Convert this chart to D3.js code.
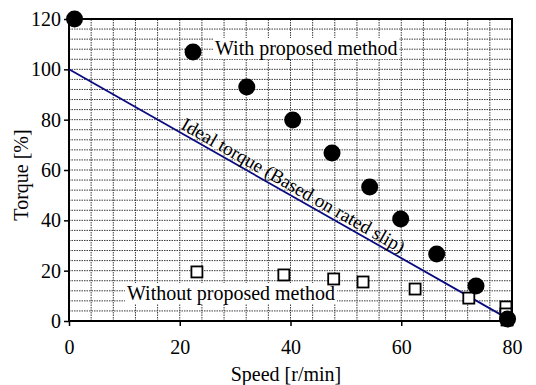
<!DOCTYPE html>
<html>
<head>
<meta charset="utf-8">
<script src="https://cdn.jsdelivr.net/npm/d3@7"></script>
<style>
  body { margin: 0; background: #fff; }
  svg, svg text { font-family: "Liberation Serif", "Times New Roman", serif !important; }
</style>
</head>
<body>
<div id="chart"></div>
<script>
// With proposed method (speed, torque)
const withSpeed = [1, 22.4, 32.1, 40.4, 47.5, 54.3, 59.9, 66.4, 73.5, 79.2];
const withTorque = [120, 106.9, 93, 79.9, 66.8, 53.2, 40.5, 26.6, 13.9, 0.8];

// Without proposed method
const withoutSpeed = [23.1, 38.8, 47.8, 53.1, 62.5, 72.2, 78.9, 78.9, 79.1];
const withoutTorque = [19.5, 18.3, 16.7, 15.5, 12.7, 9.1, 5.6, 2.8, 0.4];

// Ideal torque line (based on rated slip)
const idealSpeed = [0, 80];
const idealTorque = [100, 0];

const xTicks = [0, 20, 40, 60, 80];
const yTicks = [0, 20, 40, 60, 80, 100, 120];

const width = 536, height = 385;
const margin = {top: 19, right: 24, bottom: 64, left: 69};

const svg = d3.select("#chart").append("svg")
  .attr("width", width)
  .attr("height", height);

const x = d3.scaleLinear().domain([0, 80]).range([margin.left, width - margin.right]);
const y = d3.scaleLinear().domain([0, 120]).range([height - margin.bottom, margin.top]);

// grid, every 4 units both ways
const grid = svg.append("g")
  .attr("stroke", "#3a3a3a")
  .attr("stroke-width", 1)
  .attr("stroke-dasharray", "1.5,1");
grid.selectAll(".gx").data(d3.range(0, 81, 4)).join("line")
  .attr("x1", d => x(d)).attr("x2", d => x(d))
  .attr("y1", y(0)).attr("y2", y(120));
grid.selectAll(".gy").data(d3.range(0, 121, 4)).join("line")
  .attr("y1", d => y(d)).attr("y2", d => y(d))
  .attr("x1", x(0)).attr("x2", x(80));

// axes
svg.append("g")
  .attr("transform", `translate(0,${y(0)})`)
  .call(d3.axisBottom(x).tickValues(xTicks).tickSize(5).tickPadding(14).tickSizeOuter(0))
  .call(g => g.select(".domain").remove())
  .call(g => g.selectAll("line").attr("stroke", "#000").attr("stroke-width", 1.5))
  .call(g => g.selectAll("text").attr("font-size", 20).attr("fill", "#000"));

svg.append("g")
  .attr("transform", `translate(${x(0)},0)`)
  .call(d3.axisLeft(y).tickValues(yTicks).tickSize(5).tickPadding(3).tickSizeOuter(0))
  .call(g => g.select(".domain").remove())
  .call(g => g.selectAll("line").attr("stroke", "#000").attr("stroke-width", 1.5))
  .call(g => g.selectAll("text").attr("font-size", 20).attr("fill", "#000"));

// frame
svg.append("rect")
  .attr("x", x(0)).attr("y", y(120))
  .attr("width", x(80) - x(0)).attr("height", y(0) - y(120))
  .attr("fill", "none").attr("stroke", "#000").attr("stroke-width", 2);

// axis titles
svg.append("text")
  .attr("x", 286).attr("y", 381)
  .attr("text-anchor", "middle")
  .attr("font-size", 20)
  .text("Speed [r/min]");

svg.append("text")
  .attr("transform", "translate(28,175) rotate(-90)")
  .attr("text-anchor", "middle")
  .attr("font-size", 20)
  .text("Torque [%]");

// ideal torque line
svg.append("path")
  .datum(d3.zip(idealSpeed, idealTorque))
  .attr("fill", "none")
  .attr("stroke", "#0a0a80")
  .attr("stroke-width", 1.8)
  .attr("d", d3.line().x(d => x(d[0])).y(d => y(d[1])));

const angle = Math.atan2(y(idealTorque[1]) - y(idealTorque[0]), x(idealSpeed[1]) - x(idealSpeed[0])) * 180 / Math.PI;
svg.append("text")
  .attr("transform", `translate(${x(20)},${y(75) - 4}) rotate(${angle})`)
  .attr("font-size", 19)
  .text("Ideal torque (Based on rated slip)");

// labels with white backing
function label(txt, lx, ly) {
  const t = svg.append("text").attr("x", lx).attr("y", ly).attr("font-size", 20).text(txt);
  const b = t.node().getBBox();
  svg.insert("rect", () => t.node())
    .attr("x", b.x - 2).attr("y", b.y + 1).attr("width", b.width + 4).attr("height", b.height - 2)
    .attr("fill", "#fff");
}
label("With proposed method", 215, 55);
label("Without proposed method", 127, 300);

// without: squares
svg.append("g").selectAll("rect")
  .data(d3.zip(withoutSpeed, withoutTorque))
  .join("rect")
  .attr("x", d => x(d[0]) - 5.5).attr("y", d => y(d[1]) - 5.5)
  .attr("width", 11).attr("height", 11)
  .attr("fill", "#fff").attr("stroke", "#000").attr("stroke-width", 1.8);

// with: filled circles
svg.append("g").selectAll("circle")
  .data(d3.zip(withSpeed, withTorque))
  .join("circle")
  .attr("cx", d => x(d[0])).attr("cy", d => y(d[1]))
  .attr("r", 8.5)
  .attr("fill", "#000");
</script>
</body>
</html>
